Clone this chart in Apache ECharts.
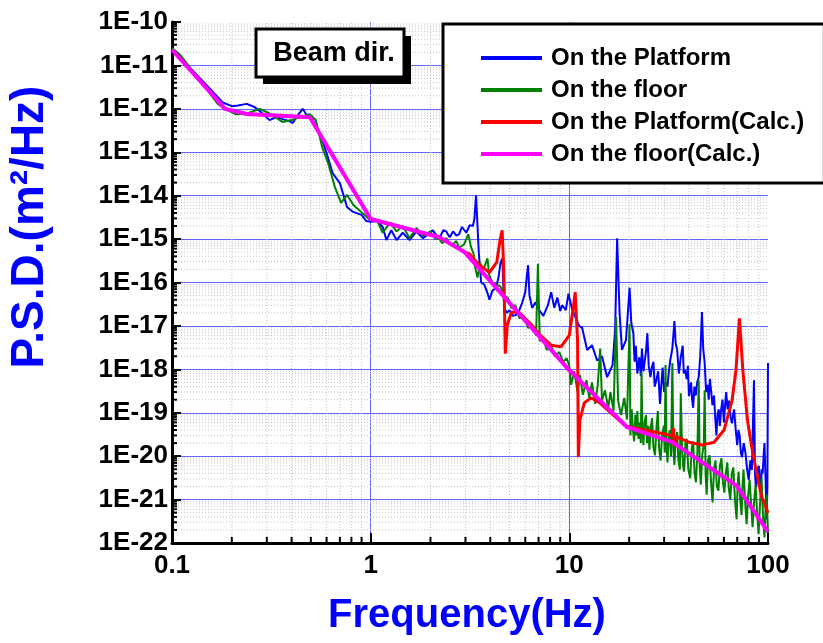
<!DOCTYPE html>
<html>
<head>
<meta charset="utf-8">
<script src="https://cdn.jsdelivr.net/npm/echarts@6/dist/echarts.min.js"></script>
<style>
  html, body { margin: 0; padding: 0; background: #fff; }
  #chart { width: 823px; height: 643px; }
</style>
</head>
<body>
<div id="chart"></div>
<script>
// tick labels
const xTickLabels = ['0.1', '1', '10', '100'];
const yTickLabels = ['1E-22', '1E-21', '1E-20', '1E-19', '1E-18', '1E-17', '1E-16',
  '1E-15', '1E-14', '1E-13', '1E-12', '1E-11', '1E-10'];
const xMin = 0.1, xMax = 100, yMin = 1e-22, yMax = 1e-10;
const minorSteps = [2, 3, 4, 5, 6, 7, 8, 9];
const xDecades = [0.1, 1, 10];
const yDecades = [1e-22, 1e-21, 1e-20, 1e-19, 1e-18, 1e-17, 1e-16, 1e-15, 1e-14, 1e-13, 1e-12, 1e-11];

const seriesNames = ['On the Platform', 'On the floor', 'On the Platform(Calc.)', 'On the floor(Calc.)'];

// [frequency Hz, PSD m^2/Hz]
const platformMeasured = [
  [0.1,2.2e-11],[0.12,1.0e-11],[0.15,3.4e-12],[0.18,1.4e-12],[0.2,1.15e-12],[0.215,1.2e-12],
  [0.238,1.3e-12],[0.26,1.1e-12],[0.28,8.5e-13],[0.31,5.5e-13],[0.337,6.5e-13],[0.36,5.8e-13],
  [0.39,5.2e-13],[0.405,4.7e-13],[0.43,7.2e-13],[0.455,1.0e-12],[0.476,7.2e-13],[0.51,5.8e-13],
  [0.555,2.8e-13],[0.6,9.5e-14],[0.643,3.3e-14],[0.7,1.95e-14],[0.76,5.5e-15],[0.81,4.3e-15],
  [0.9,3.6e-15],[0.95,2.6e-15],[1.0,2.5e-15],[1.08,2.6e-15],[1.15,1.9e-15],[1.2,9.5e-16],
  [1.27,1.6e-15],[1.35,9.5e-16],[1.45,1.4e-15],[1.57,9.5e-16],[1.7,1.5e-15],[1.83,1.05e-15],
  [1.95,1.3e-15],[2.05,1.6e-15],[2.15,1.2e-15],[2.22,1.05e-15],[2.32,1.6e-15],[2.4,1.5e-15],
  [2.5,1.1e-15],[2.6,1.5e-15],[2.7,1.2e-15],[2.79,1.3e-15],[2.88,1.9e-15],[3.03,1.4e-15],
  [3.15,2.1e-15],[3.27,2.0e-15],[3.33,3.0e-15],[3.39,1.0e-14],[3.43,3.5e-15],[3.5,5e-16],
  [3.6,1.0e-16],[3.73,9e-17],[3.87,5.8e-17],[3.96,4e-17],[4.1,6.5e-17],[4.27,7.4e-17],
  [4.4,1.3e-16],[4.5,2.8e-16],[4.6,3.6e-16],[4.7,2.6e-17],[4.85,2.0e-17],[5.0,2.3e-17],
  [5.2,1.7e-17],[5.4,1.8e-17],[5.6,2.3e-17],[5.8,3.5e-17],[6.0,6e-17],[6.1,1.3e-16],
  [6.2,2.5e-16],[6.3,5e-17],[6.5,2.6e-17],[6.75,3.5e-17],[7.05,2.3e-17],[7.4,1.7e-17],
  [7.8,3.0e-17],[8.1,6e-17],[8.4,2.6e-17],[8.7,4.5e-17],[9.0,2.2e-17],[9.2,3.0e-17],
  [9.6,2.3e-17],[9.9,5.5e-17],[10.3,2.5e-17],[10.6,1.8e-17],[11.2,1.0e-17],[11.6,9e-18],
  [12.3,2.8e-18],[13.0,3.6e-18],[13.8,1.6e-18],[14.6,2.0e-18],[15.5,6.6e-19],[16.5,1.25e-18],
  [17.0,8e-18],[17.4,1.05e-15],[17.9,2.0e-17],[18.4,2.8e-18],[19.3,4.8e-18],[20.1,7.6e-17],
  [20.5,1.2e-17],[21.0,6.8e-18],[21.3,1.5e-18],[21.6,3.5e-18],[22.0,8e-19],[22.5,1.9e-18],
  [22.9,7e-19],[23.2,3e-18],[23.6,9e-19],[23.9,1.4e-18],[24.3,2.5e-18],[24.7,6.8e-18],
  [25.1,1.2e-18],[25.6,6.6e-19],[26.0,1.1e-18],[26.5,1.5e-18],[26.9,4e-19],[27.4,5.6e-19],
  [28.0,9e-19],[28.6,1.6e-19],[29.0,4e-19],[29.5,1.1e-18],[30.0,3e-19],[30.5,5e-19],
  [31.2,4e-19],[31.7,9e-19],[32.2,1.6e-18],[33.0,3e-18],[33.8,1.3e-17],[34.3,4e-18],
  [34.9,2.8e-18],[35.6,8e-19],[36.4,1.9e-18],[37.2,3.5e-18],[37.7,8e-19],[38.2,9.6e-19],
  [39.0,6e-19],[39.5,1.2e-18],[40.0,2.4e-19],[41.0,5e-19],[41.5,2e-19],[42.0,1.3e-19],
  [42.6,4e-19],[43.3,2.5e-19],[44.0,5e-19],[44.8,6.6e-19],[45.6,2e-18],[46.5,2.1e-17],
  [47.2,3e-18],[48.0,1.4e-18],[48.8,3e-19],[49.7,4.4e-19],[50.3,2e-19],[51.0,6e-19],
  [51.8,3e-19],[52.5,1.5e-19],[53.5,2.5e-19],[54.2,8e-20],[55.0,3e-20],[55.7,9e-20],
  [56.5,1.2e-19],[57.2,5e-20],[58.0,1.1e-19],[59.0,2e-19],[60.0,6e-20],[60.8,1.5e-19],
  [61.6,3e-19],[62.6,1.2e-19],[63.6,1.9e-19],[64.8,8e-20],[65.9,5.7e-20],[66.7,9e-20],
  [67.5,1.2e-19],[68.8,4e-20],[70.0,1.8e-20],[71.0,4e-20],[72.0,3e-20],[73.0,1.2e-20],
  [74.0,9.5e-21],[75.5,2e-20],[77.0,1.2e-20],[78.5,5e-21],[80.0,2.8e-21],[81.5,8e-21],
  [83.0,4.8e-21],[85.0,5.6e-19],[86.0,4e-21],[87.0,1.9e-21],[88.5,5e-21],[90.0,6e-21],
  [91.0,2.5e-21],[92.0,1.7e-21],[93.0,5e-21],[94.0,4e-21],[95.2,1.2e-20],[96.0,2e-20],
  [97.2,3e-21],[98.5,3.5e-22],[99.3,2e-21],[100,1.4e-18]
];

const floorMeasured = [
  [0.1,2.5e-11],[0.11,1.75e-11],[0.14,4.2e-12],[0.17,1.3e-12],[0.185,1.0e-12],[0.21,7.5e-13],
  [0.238,7.8e-13],[0.277,1.0e-12],[0.31,7.8e-13],[0.36,5.0e-13],[0.4,5.5e-13],[0.455,6.8e-13],
  [0.494,7.5e-13],[0.53,5.5e-13],[0.57,1.3e-13],[0.61,5.7e-14],[0.66,1.6e-14],[0.71,6.8e-15],
  [0.76,1.05e-14],[0.82,6e-15],[0.92,3.8e-15],[0.99,2.8e-15],[1.08,2.6e-15],[1.15,1.4e-15],
  [1.25,2.4e-15],[1.35,1.5e-15],[1.45,2.0e-15],[1.57,1.05e-15],[1.7,1.8e-15],[1.83,1.2e-15],
  [2.0,1.5e-15],[2.1,1.05e-15],[2.22,1.0e-15],[2.3,8e-16],[2.4,1.05e-15],[2.55,7e-16],
  [2.7,9e-16],[2.79,6.3e-16],[2.95,7.5e-16],[3.1,1.3e-15],[3.2,6.5e-16],[3.3,4.5e-16],
  [3.35,2.3e-16],[3.45,1.3e-16],[3.55,2.8e-16],[3.7,2.0e-16],[3.87,3.6e-16],[3.95,1.5e-16],
  [4.1,1.0e-16],[4.3,9e-17],[4.5,8e-17],[4.7,5e-17],[4.9,4.5e-17],[5.1,2.6e-17],
  [5.35,3e-17],[5.6,1.5e-17],[5.9,1.7e-17],[6.2,9e-18],[6.5,1.1e-17],[6.8,6e-18],
  [6.95,2.7e-16],[7.1,4.5e-18],[7.4,5e-18],[7.7,2.8e-18],[8.1,3.5e-18],[8.5,2e-18],
  [8.9,2.5e-18],[9.3,1.5e-18],[9.7,1.8e-18],[10.0,1.2e-18],[10.2,4.4e-19],[10.6,9e-19],
  [11.0,3e-19],[11.3,7.4e-19],[11.7,2.6e-19],[12.2,5.6e-19],[12.6,2.2e-19],[13.0,5e-19],
  [13.5,1.6e-19],[13.9,4.4e-19],[14.3,3e-18],[14.6,1.9e-19],[15.1,3.3e-19],[15.7,1.3e-19],
  [16.1,3e-19],[16.7,1.1e-19],[17.2,1.6e-17],[17.6,1.9e-19],[18.2,8.8e-20],[18.9,2.2e-19],
  [19.5,7e-20],[20.1,1.1e-17],[20.3,3e-20],[20.6,1.2e-19],[20.9,4e-20],[21.2,2.2e-20],
  [21.5,9e-20],[21.8,3e-20],[22.0,1.1e-19],[22.3,2.5e-20],[22.6,6e-20],[22.9,2e-20],
  [23.1,8.7e-19],[23.3,5e-20],[23.6,1.8e-20],[23.9,6e-20],[24.3,8.8e-20],[24.6,2e-20],
  [25.0,5e-20],[25.3,1.4e-20],[25.7,4.5e-20],[26.1,7.5e-20],[26.5,1.6e-20],[27.0,1.05e-20],
  [27.4,4e-20],[27.9,1.1e-19],[28.3,1.5e-20],[28.8,8e-21],[29.3,3e-20],[29.9,5e-20],
  [30.2,1.2e-20],[30.5,1.25e-18],[30.8,2e-20],[31.2,7.2e-21],[31.6,2.5e-20],[32.0,4e-20],
  [32.5,1e-20],[33.0,1.4e-18],[33.4,1.5e-20],[33.8,6.3e-21],[34.3,2.5e-20],[34.9,3.6e-20],
  [35.4,8e-21],[36.0,4.9e-21],[36.4,2.8e-19],[36.9,1.5e-20],[37.4,6e-21],[37.8,4.4e-21],
  [38.4,2e-20],[39.0,2.5e-20],[39.7,5e-21],[40.6,3.1e-21],[41.3,1.5e-20],[42.0,2.2e-20],
  [42.7,4e-21],[43.4,2.5e-21],[44.1,1.2e-20],[44.8,5.6e-19],[45.3,6e-21],[45.9,2.2e-21],
  [46.7,1.1e-20],[47.5,1.8e-20],[48.0,3.3e-19],[48.5,4e-21],[49.1,1.3e-21],[49.9,8e-21],
  [50.8,1.05e-20],[51.7,2.5e-21],[52.6,8.6e-22],[53.5,5e-21],[54.4,8e-21],[55.3,2e-21],
  [56.3,1.6e-21],[57.3,6e-21],[58.3,9e-21],[59.3,2.5e-21],[60.3,1.45e-21],[61.3,4e-21],
  [62.4,7.2e-21],[63.5,1.8e-21],[64.6,1e-21],[65.7,4e-21],[66.9,5.5e-21],[68.2,1e-21],
  [69.5,3.5e-22],[70.3,2e-21],[71.1,4.4e-21],[72.3,1.2e-21],[73.6,4.4e-22],[74.4,2e-21],
  [75.3,4.9e-21],[76.6,1e-21],[78.0,2.7e-22],[79.4,1.2e-21],[80.8,2.8e-21],[82.2,8e-22],
  [83.6,2.3e-22],[85.1,9e-22],[86.6,2.2e-21],[88.1,5e-22],[89.6,1.6e-22],[91.2,8e-22],
  [92.8,3.1e-21],[94.4,4e-22],[96.0,1.35e-22],[97.2,6e-22],[98.5,1.3e-21],[100,1.7e-22]
];

const platformCalc = [
  [0.1,2.3e-11],[0.185,1.0e-12],[0.238,7.6e-13],[0.494,6.4e-13],[1.0,2.9e-15],[2.22,1.1e-15],
  [2.97,5e-16],[3.14,4.6e-16],[3.5,2.6e-16],[3.96,1.7e-16],[4.31,2.9e-16],[4.48,9.5e-16],
  [4.59,1.6e-15],[4.66,3e-16],[4.7,6.8e-17],[4.76,2.3e-18],[4.87,1.05e-17],[5.12,2.1e-17],
  [5.61,2.0e-17],[6.29,1.2e-17],[7.05,6.5e-18],[8.09,3.6e-18],[9.08,3.3e-18],[10.0,6.1e-18],
  [10.5,3e-17],[10.7,6e-17],[11.0,4.7e-18],[11.1,9.5e-21],[11.3,6.8e-20],[11.9,1.7e-19],
  [12.9,2.2e-19],[14.2,1.7e-19],[16.2,9.8e-20],[19.3,4.9e-20],[23.9,4e-20],[30.7,3.2e-20],
  [33.0,2.9e-20],[33.5,4.4e-20],[33.7,1.7e-20],[34.5,2.8e-20],[40.0,2.1e-20],[46.5,1.8e-20],
  [53.5,2.1e-20],[60.1,4e-20],[65.9,1.9e-19],[69.0,9.6e-19],[71.8,1.5e-17],[74.7,9.6e-19],
  [78.8,6.8e-20],[82.5,1.8e-20],[87.1,4.8e-21],[92.4,1.26e-21],[100,4.9e-22]
];

const floorCalc = [
  [0.1,2.3e-11],[0.185,1.0e-12],[0.238,7.6e-13],[0.494,6.4e-13],[1.0,2.9e-15],[2.22,1.1e-15],
  [2.97,5e-16],[10,9.5e-19],[19.5,4.7e-20],[33,2.1e-20],[69.5,2.1e-21],[100,1.8e-22]
];

const font = '"Liberation Sans", Arial, sans-serif';
// ECharts 6 log axis breaks with a 1e-22 bound, so the PSD axis is a value axis in decades
const dec = v => Math.log10(v);
const yLo = Math.round(dec(yMin)), yHi = Math.round(dec(yMax));
const toDecades = pts => pts.map(p => [p[0], dec(p[1])]);

const xMinor = xDecades.flatMap(d => minorSteps.map(m => m * d));
const yMinor = yDecades.flatMap(d => minorSteps.map(m => m * d));

// dotted minor grid + small inward minor ticks at 2..9 of each decade
function minorRenderer(isX) {
  return function (params, api) {
    const v = api.value(isX ? 0 : 1);
    const a = isX ? api.coord([v, yLo]) : api.coord([xMin, v]);
    const b = isX ? api.coord([v, yHi]) : api.coord([xMax, v]);
    return {
      type: 'group',
      children: [
        { type: 'line', shape: { x1: a[0], y1: a[1], x2: b[0], y2: b[1] },
          style: { stroke: '#c4c4c4', lineWidth: 1, lineDash: [1, 2] } },
        { type: 'line',
          shape: isX ? { x1: a[0], y1: a[1], x2: a[0], y2: a[1] - 6 }
                     : { x1: a[0], y1: a[1], x2: a[0] + 5, y2: a[1] },
          style: { stroke: '#000', lineWidth: 2 } }
      ]
    };
  };
}

const lineColors = ['#0000ff', '#008000', '#ff0000', '#ff00ff'];
const lineWidths = [2, 2, 3, 4];
const lineData = [platformMeasured, floorMeasured, platformCalc, floorCalc];
const lineZ = [3, 4, 5, 6];

const chart = echarts.init(document.getElementById('chart'));

chart.setOption({
  animation: false,
  backgroundColor: '#fff',
  grid: { left: 172, top: 22, right: 55, bottom: 100 },
  xAxis: {
    type: 'log', logBase: 10, min: xMin, max: xMax,
    axisLine: { onZero: false, lineStyle: { color: '#000', width: 3 } },
    axisTick: { inside: true, length: 10, lineStyle: { color: '#000', width: 2 } },
    axisLabel: {
      margin: 10, color: '#000', fontSize: 26, fontWeight: 'bold', fontFamily: font,
      formatter: v => xTickLabels[Math.round(Math.log10(v / xMin))]
    },
    splitLine: { show: true, showMinLine: false, showMaxLine: false,
      lineStyle: { color: '#6464ff', width: 1 } }
  },
  yAxis: {
    type: 'value', min: yLo, max: yHi, interval: 1,
    axisLine: { onZero: false, lineStyle: { color: '#000', width: 3 } },
    axisTick: { inside: true, length: 9, lineStyle: { color: '#000', width: 2 } },
    axisLabel: {
      margin: 4, color: '#000', fontSize: 26, fontWeight: 'bold', fontFamily: font,
      formatter: v => yTickLabels[Math.round(v - yLo)]
    },
    splitLine: { show: true, showMinLine: false, showMaxLine: false,
      lineStyle: { color: '#6464ff', width: 1 } }
  },
  legend: {
    data: seriesNames,
    orient: 'vertical', left: 443, top: 24,
    padding: [22, 20, 17, 38], itemGap: 8, itemWidth: 61, itemHeight: 4,
    icon: 'rect',
    backgroundColor: '#fff', borderColor: '#000', borderWidth: 3,
    selectedMode: false, z: 20,
    textStyle: { color: '#000', fontSize: 24, fontWeight: 'bold', fontFamily: font, padding: [0, 0, 0, 4] }
  },
  graphic: [
    { type: 'rect', z: 100, shape: { x: 263, y: 36, width: 148, height: 48 }, style: { fill: '#000' } },
    { type: 'rect', z: 101, shape: { x: 256, y: 29, width: 148, height: 48 },
      style: { fill: '#fff', stroke: '#000', lineWidth: 3 } },
    { type: 'text', z: 102, x: 334, y: 54,
      style: { text: 'Beam dir.', font: 'bold 27px ' + font, fill: '#000',
        align: 'center', verticalAlign: 'middle', textAlign: 'center', textVerticalAlign: 'middle' } },
    { type: 'text', z: 102, x: 30, y: 227, rotation: Math.PI / 2,
      style: { text: 'P.S.D.(m²/Hz)', font: 'bold 46px ' + font, fill: '#0000ff',
        align: 'center', verticalAlign: 'middle', textAlign: 'center', textVerticalAlign: 'middle' } },
    { type: 'text', z: 102, x: 467, y: 616,
      style: { text: 'Frequency(Hz)', font: 'bold 40px ' + font, fill: '#0000ff',
        align: 'center', verticalAlign: 'middle', textAlign: 'center', textVerticalAlign: 'middle' } }
  ],
  series: [
    { type: 'custom', name: 'xMinor', silent: true, z: 1,
      data: xMinor.map(v => [v, yLo]), renderItem: minorRenderer(true) },
    { type: 'custom', name: 'yMinor', silent: true, z: 1,
      data: yMinor.map(v => [xMin, dec(v)]), renderItem: minorRenderer(false) }
  ].concat(seriesNames.map((name, i) => ({
    type: 'line', name: name, data: toDecades(lineData[i]), z: lineZ[i],
    symbol: 'none', showSymbol: false, silent: true,
    itemStyle: { color: lineColors[i] },
    lineStyle: { color: lineColors[i], width: lineWidths[i] }
  })))
});
</script>
</body>
</html>
